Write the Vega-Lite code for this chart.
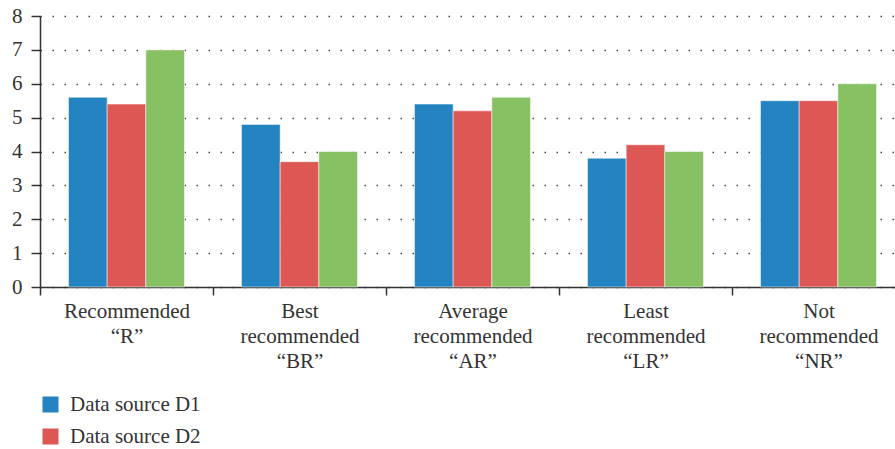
{
  "$schema": "https://vega.github.io/schema/vega-lite/v6.json",
  "autosize": {"type": "none"},
  "padding": {"left": 40, "top": 16, "right": 0, "bottom": 162},
  "width": 865,
  "height": 271,
  "background": "white",
  "config": {
    "font": "Liberation Serif",
    "view": {"stroke": null},
    "axis": {
      "labelFont": "Liberation Serif",
      "labelFontSize": 21,
      "labelColor": "#333333",
      "domainColor": "#333333",
      "domainWidth": 1.5,
      "tickColor": "#333333",
      "tickWidth": 1.5,
      "title": null
    },
    "legend": {
      "labelFont": "Liberation Serif",
      "labelFontSize": 21,
      "labelColor": "#333333"
    }
  },
  "data": {
    "values": [
      {"category": "Recommended|“R”", "source": "Data source D1", "value": 5.6},
      {"category": "Recommended|“R”", "source": "Data source D2", "value": 5.4},
      {"category": "Recommended|“R”", "source": "Data source D3", "value": 7.0},
      {"category": "Best|recommended|“BR”", "source": "Data source D1", "value": 4.8},
      {"category": "Best|recommended|“BR”", "source": "Data source D2", "value": 3.7},
      {"category": "Best|recommended|“BR”", "source": "Data source D3", "value": 4.0},
      {"category": "Average|recommended|“AR”", "source": "Data source D1", "value": 5.4},
      {"category": "Average|recommended|“AR”", "source": "Data source D2", "value": 5.2},
      {"category": "Average|recommended|“AR”", "source": "Data source D3", "value": 5.6},
      {"category": "Least|recommended|“LR”", "source": "Data source D1", "value": 3.8},
      {"category": "Least|recommended|“LR”", "source": "Data source D2", "value": 4.2},
      {"category": "Least|recommended|“LR”", "source": "Data source D3", "value": 4.0},
      {"category": "Not|recommended|“NR”", "source": "Data source D1", "value": 5.5},
      {"category": "Not|recommended|“NR”", "source": "Data source D2", "value": 5.5},
      {"category": "Not|recommended|“NR”", "source": "Data source D3", "value": 6.0}
    ]
  },
  "mark": {"type": "bar", "stroke": "white", "strokeWidth": 1, "strokeOpacity": 0.5},
  "encoding": {
    "x": {
      "field": "category",
      "type": "nominal",
      "sort": null,
      "scale": {"paddingInner": 0, "paddingOuter": 0},
      "axis": {
        "labelAngle": 0,
        "labelExpr": "split(datum.label, '|')",
        "labelLineHeight": 25,
        "labelPadding": 5,
        "tickSize": 8,
        "tickBand": "extent",
        "labelBaseline": "top"
      }
    },
    "xOffset": {
      "field": "source",
      "type": "nominal",
      "scale": {"paddingInner": 0, "paddingOuter": 0.737}
    },
    "y": {
      "field": "value",
      "type": "quantitative",
      "scale": {"domain": [0, 8], "nice": false},
      "axis": {
        "values": [0, 1, 2, 3, 4, 5, 6, 7, 8],
        "tickSize": 9,
        "labelPadding": 9,
        "grid": true,
        "gridColor": "#444444",
        "gridWidth": 1.5,
        "gridDash": [1.5, 10.5],
        "labelBaseline": "middle"
      }
    },
    "color": {
      "field": "source",
      "type": "nominal",
      "scale": {"range": ["#2483C1", "#DD5855", "#87C163"]},
      "legend": {
        "title": null,
        "orient": "none",
        "direction": "vertical",
        "legendX": 0,
        "legendY": 378,
        "padding": 0,
        "symbolType": "square",
        "symbolSize": 256,
        "symbolStrokeWidth": 0,
        "labelOffset": 9,
        "rowPadding": 10
      }
    }
  }
}
